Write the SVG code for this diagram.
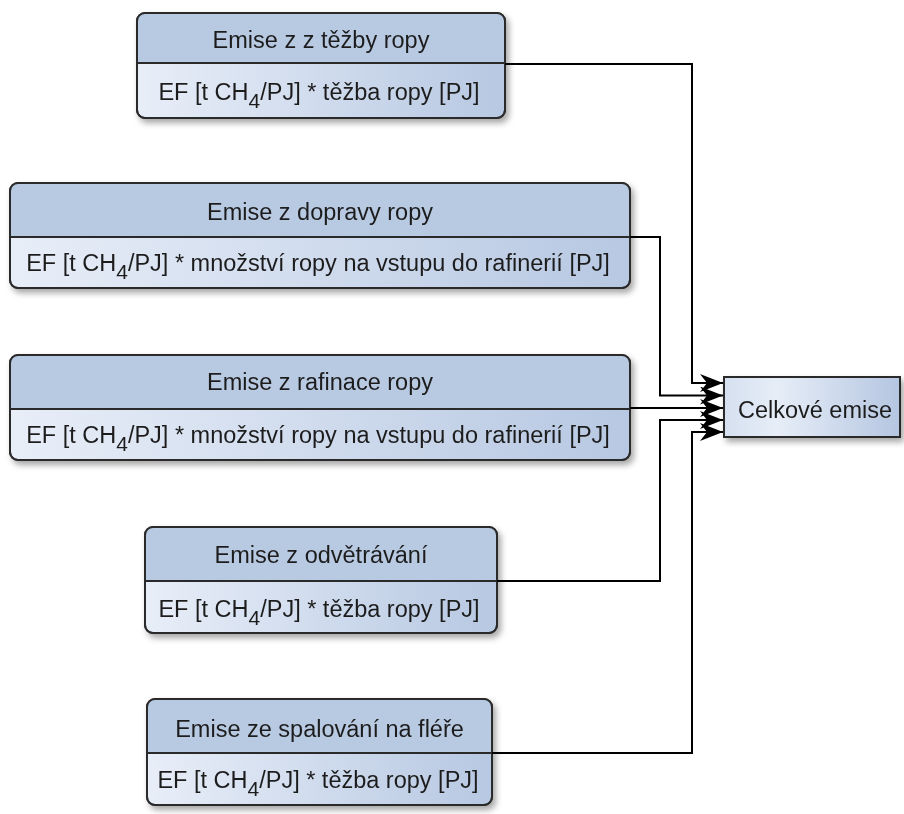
<svg xmlns="http://www.w3.org/2000/svg" width="904" height="814" viewBox="0 0 904 814">
<style>
.box{stroke:#2b2b2b;stroke-width:2;fill:url(#body)}
.hd{fill:#b8c9e2;stroke:none}
.div{stroke:#2b2b2b;stroke-width:2}
text{font-family:"Liberation Sans",Arial,sans-serif;font-size:23.5px;fill:#1e1e1e;text-anchor:middle}
.sub{font-size:21px}
.conn{fill:none;stroke:#000;stroke-width:2;marker-end:url(#arr)}
</style>
<defs>
<linearGradient id="body" x1="0" y1="0" x2="1" y2="0">
<stop offset="0" stop-color="#e8eef8"/>
<stop offset="1" stop-color="#b7c8e2"/>
</linearGradient>
<linearGradient id="tot" x1="0" y1="0" x2="1" y2="0">
<stop offset="0" stop-color="#d5e0f0"/>
<stop offset="0.3" stop-color="#e6edf7"/>
<stop offset="1" stop-color="#b5c6e1"/>
</linearGradient>
<filter id="sh" x="-5%" y="-10%" width="115%" height="130%">
<feDropShadow dx="3" dy="4" stdDeviation="3" flood-color="#000" flood-opacity="0.35"/>
</filter>
<marker id="arr" markerUnits="userSpaceOnUse" markerWidth="26" markerHeight="20" refX="23" refY="9" orient="auto">
<path d="M23,9 L0,0 L7,9 L0,18 Z" fill="#000"/>
</marker>
</defs>

<g id="n1" filter="url(#sh)">
<rect class="box" x="137" y="13" width="368" height="105" rx="8"/>
<path class="hd" d="M137,63 V21 A8,8 0 0 1 145,13 H497 A8,8 0 0 1 505,21 V63 Z"/>
<line class="div" x1="137" y1="63" x2="505" y2="63"/>
<rect x="137" y="13" width="368" height="105" rx="8" fill="none" stroke="#2b2b2b" stroke-width="2"/>
<text x="321" y="48">Emise z z těžby ropy</text>
<text x="319" y="100">EF [t CH<tspan class="sub" dy="8">4</tspan><tspan dy="-8">/PJ] * těžba ropy [PJ]</tspan></text>
</g>

<g id="n2" filter="url(#sh)">
<rect class="box" x="10" y="183" width="620" height="105" rx="8"/>
<path class="hd" d="M10,237 V191 A8,8 0 0 1 18,183 H622 A8,8 0 0 1 630,191 V237 Z"/>
<line class="div" x1="10" y1="237" x2="630" y2="237"/>
<rect x="10" y="183" width="620" height="105" rx="8" fill="none" stroke="#2b2b2b" stroke-width="2"/>
<text x="320" y="220">Emise z dopravy ropy</text>
<text x="318" y="271">EF [t CH<tspan class="sub" dy="8">4</tspan><tspan dy="-8">/PJ] * množství ropy na vstupu do rafinerií [PJ]</tspan></text>
</g>

<g id="n3" filter="url(#sh)">
<rect class="box" x="10" y="355" width="620" height="105" rx="8"/>
<path class="hd" d="M10,409 V363 A8,8 0 0 1 18,355 H622 A8,8 0 0 1 630,363 V409 Z"/>
<line class="div" x1="10" y1="409" x2="630" y2="409"/>
<rect x="10" y="355" width="620" height="105" rx="8" fill="none" stroke="#2b2b2b" stroke-width="2"/>
<text x="320" y="390">Emise z rafinace ropy</text>
<text x="318" y="443">EF [t CH<tspan class="sub" dy="8">4</tspan><tspan dy="-8">/PJ] * množství ropy na vstupu do rafinerií [PJ]</tspan></text>
</g>

<g id="n4" filter="url(#sh)">
<rect class="box" x="145" y="527" width="352" height="106" rx="8"/>
<path class="hd" d="M145,581 V535 A8,8 0 0 1 153,527 H489 A8,8 0 0 1 497,535 V581 Z"/>
<line class="div" x1="145" y1="581" x2="497" y2="581"/>
<rect x="145" y="527" width="352" height="106" rx="8" fill="none" stroke="#2b2b2b" stroke-width="2"/>
<text x="321" y="563">Emise z odvětrávání</text>
<text x="319" y="617">EF [t CH<tspan class="sub" dy="8">4</tspan><tspan dy="-8">/PJ] * těžba ropy [PJ]</tspan></text>
</g>

<g id="n5" filter="url(#sh)">
<rect class="box" x="147" y="699" width="345" height="106" rx="8"/>
<path class="hd" d="M147,753 V707 A8,8 0 0 1 155,699 H484 A8,8 0 0 1 492,707 V753 Z"/>
<line class="div" x1="147" y1="753" x2="492" y2="753"/>
<rect x="147" y="699" width="345" height="106" rx="8" fill="none" stroke="#2b2b2b" stroke-width="2"/>
<text x="319.5" y="737">Emise ze spalování na fléře</text>
<text x="318" y="788">EF [t CH<tspan class="sub" dy="8">4</tspan><tspan dy="-8">/PJ] * těžba ropy [PJ]</tspan></text>
</g>

<g id="total" filter="url(#sh)">
<rect x="724" y="377" width="176" height="60" fill="url(#tot)" stroke="#2b2b2b" stroke-width="2"/>
<text x="815" y="418">Celkové emise</text>
</g>

<g id="connectors">
<polyline class="conn" points="505,64 692,64 692,383 723,383"/>
<polyline class="conn" points="630,237 660,237 660,395.5 723,395.5"/>
<polyline class="conn" points="630,408 723,408"/>
<polyline class="conn" points="497,581 660,581 660,420 723,420"/>
<polyline class="conn" points="492,753 692,753 692,432 723,432"/>
</g>
</svg>
